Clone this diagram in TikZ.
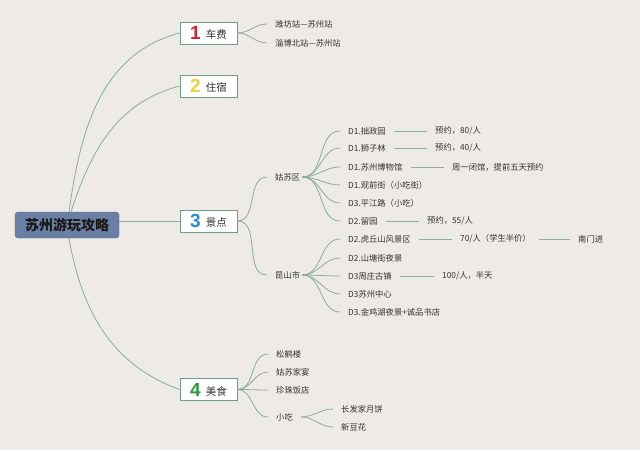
\documentclass[tikz,border=0pt]{standalone}
\usepackage{fontspec}
\setmainfont{Noto Sans CJK SC}
\newfontfamily\numfont{Liberation Sans}
\usetikzlibrary{positioning}
\definecolor{bgc}{HTML}{EEEAE6}
\definecolor{linec}{HTML}{88AE9E}
\definecolor{boxc}{HTML}{6E9E88}
\definecolor{rootc}{HTML}{6B7FA5}
\definecolor{rootb}{HTML}{5A6D92}
\definecolor{txt}{HTML}{333333}
\definecolor{n1}{HTML}{D9213A}
\definecolor{n2}{HTML}{F2CF3C}
\definecolor{n3}{HTML}{2A8AD8}
\definecolor{n4}{HTML}{2A9A3A}
\tikzset{
  rootbox/.style={draw=rootb, fill=rootc, rounded corners=3pt, minimum width=104pt, minimum height=26pt, inner sep=0pt, font=\fontsize{14}{16}\selectfont\bfseries, text=black!90},
  mainbox/.style={draw=boxc, line width=0.9pt, fill=white, minimum width=57pt, minimum height=22pt, inner sep=0pt, font=\fontsize{10.5}{12}\selectfont, text=txt},
  leaf/.style={anchor=west, inner xsep=8pt, inner ysep=2pt, font=\fontsize{8.3}{10}\selectfont, text=txt},
  conn/.style={draw=linec, line width=0.8pt},
}
\newcommand{\bnum}[3]{{\numfont\fontsize{19}{19}\selectfont\bfseries\color{#1}#2}\hspace{5pt}\raisebox{1pt}{#3}}
\begin{document}
\begin{tikzpicture}[x=1pt,y=-1pt]
\fill[bgc] (0,0) rectangle (640,450);
\useasboundingbox (0,0) rectangle (640,450);

\node[rootbox] (root) at (67,225) {苏州游玩攻略};
\node[mainbox] (b1) at (208.5,33) {\bnum{n1}{1}{车费}};
\node[mainbox] (b2) at (208.5,86) {\bnum{n2}{2}{住宿}};
\node[mainbox] (b3) at (208.5,221) {\bnum{n3}{3}{景点}};
\node[mainbox] (b4) at (208.5,389.5) {\bnum{n4}{4}{美食}};

\draw[conn] ([xshift=2pt]root.north) to[out=82,in=195] (b1.west);
\draw[conn] ([xshift=4pt]root.north) to[out=72,in=195] (b2.west);
\draw[conn] (root.east |- b3.west) -- (b3.west);
\draw[conn] ([xshift=2pt]root.south) to[out=-80,in=160] (b4.west);

% car
\node[leaf] (l11) at (267,24) {潍坊站—苏州站};
\node[leaf] (l12) at (267,43) {淄博北站—苏州站};
\foreach \n in {l11,l12} \draw[conn] (b1.east) to[out=0,in=180] (\n.west);

% sights
\node[leaf] (g) at (267,177) {姑苏区};
\node[leaf] (k) at (267,275) {昆山市};
\foreach \n in {g,k} \draw[conn] (b3.east) to[out=0,in=180] (\n.west);

\node[leaf] (g1) at (340,131) {D1.拙政园};
\node[leaf] (g2) at (340,148) {D1.狮子林};
\node[leaf] (g3) at (340,167) {D1.苏州博物馆};
\node[leaf] (g4) at (340,185) {D1.观前街（小吃街）};
\node[leaf] (g5) at (340,203) {D3.平江路（小吃）};
\node[leaf] (g6) at (340,221) {D2.留园};
\foreach \n in {g1,g2,g3,g4,g5,g6} \draw[conn] ([xshift=-6pt]g.east) to[out=0,in=180] (\n.west);

\node[leaf] (g1d) at (427,131) {预约，80/人};
\node[leaf] (g2d) at (427,148) {预约，40/人};
\node[leaf] (g3d) at (444,167) {周一闭馆，提前五天预约};
\node[leaf] (g6d) at (419,221) {预约，55/人};
\draw[conn] (g1.east) -- (g1d.west);
\draw[conn] (g2.east) -- (g2d.west);
\draw[conn] (g3.east) -- (g3d.west);
\draw[conn] (g6.east) -- (g6d.west);

\node[leaf] (k1) at (340,239) {D2.虎丘山风景区};
\node[leaf] (k2) at (340,258) {D2.山塘街夜景};
\node[leaf] (k3) at (340,276) {D3周庄古镇};
\node[leaf] (k4) at (340,294) {D3苏州中心};
\node[leaf] (k5) at (340,312) {D3.金鸡湖夜景+诚品书店};
\foreach \n in {k1,k2,k3,k4,k5} \draw[conn] ([xshift=-6pt]k.east) to[out=0,in=180] (\n.west);

\node[leaf] (k1d) at (452,239) {70/人（学生半价）};
\node[leaf] (k1dd) at (570,239) {南门进};
\node[leaf] (k3d) at (434,276) {100/人，半天};
\draw[conn] (k1.east) -- (k1d.west);
\draw[conn] (k1d.east) -- (k1dd.west);
\draw[conn] (k3.east) -- (k3d.west);

% food
\node[leaf] (f1) at (268,354) {松鹤楼};
\node[leaf] (f2) at (268,372) {姑苏家宴};
\node[leaf] (f3) at (268,390) {珍珠饭店};
\node[leaf] (f4) at (268,417) {小吃};
\foreach \n in {f1,f2,f3,f4} \draw[conn] (b4.east) to[out=0,in=180] (\n.west);
\node[leaf] (f41) at (333,409) {长发家月饼};
\node[leaf] (f42) at (333,427) {新豆花};
\foreach \n in {f41,f42} \draw[conn] (f4.east) to[out=0,in=180] (\n.west);
\end{tikzpicture}
\end{document}
